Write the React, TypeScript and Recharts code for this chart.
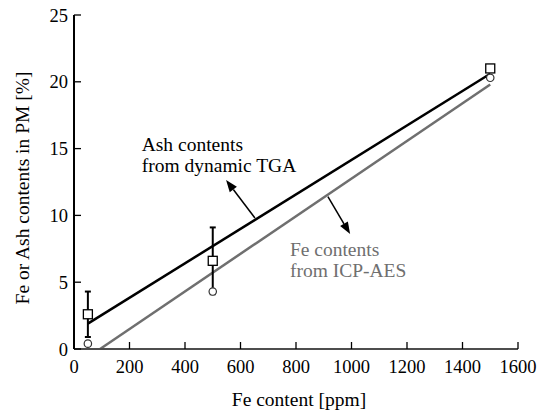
import React from 'react';
import {
  ComposedChart, XAxis, YAxis, Line, Scatter, ErrorBar, ReferenceLine, ReferenceDot, Label
} from 'recharts';

const FONT = "'Liberation Serif', Tinos, 'Times New Roman', Times, serif";
const GRAY = '#6f6f6f';

const xTicks = [0, 200, 400, 600, 800, 1000, 1200, 1400, 1600];
const yTicks = [0, 5, 10, 15, 20, 25];

// measured samples
const feAdded = [50, 500, 1500];
const ashTga = [2.6, 6.6, 21.0];
const ashErr = [1.7, 2.5, 0];
const feIcp = [0.4, 4.3, 20.3];

// linear fits
const ashFitX = [50, 1500];
const ashFitY = [1.9, 20.6];
const feFitX = [94, 1500];
const feFitY = [0, 19.8];

const ashPoints = feAdded.map((x, i) => ({ x, y: ashTga[i], err: ashErr[i] }));
const fePoints = feAdded.map((x, i) => ({ x, y: feIcp[i] }));
const ashFit = ashFitX.map((x, i) => ({ x, y: ashFitY[i] }));
const feFit = feFitX.map((x, i) => ({ x, y: feFitY[i] }));

function Arrow(props: any) {
  const { x1, y1, x2, y2, color } = props;
  const a = Math.atan2(y2 - y1, x2 - x1);
  const len = 12;
  const hw = 4.5;
  const bx = x2 - len * Math.cos(a);
  const by = y2 - len * Math.sin(a);
  const px = -Math.sin(a) * hw;
  const py = Math.cos(a) * hw;
  return (
    <g>
      <line x1={x1} y1={y1} x2={bx} y2={by} stroke={color} strokeWidth={1.5} />
      <polygon points={`${x2},${y2} ${bx + px},${by + py} ${bx - px},${by - py}`} fill={color} />
    </g>
  );
}

function Note({ cx, cy, lines, color }: any) {
  return (
    <text x={cx} y={cy} fill={color} style={{ fontFamily: FONT, fontSize: 19.5 }}>
      {lines.map((t: string, i: number) => (
        <tspan key={i} x={cx} dy={i === 0 ? 0 : 21}>{t}</tspan>
      ))}
    </text>
  );
}

const Square = ({ cx, cy }: any) => (
  <rect x={cx - 4.5} y={cy - 4.5} width={9} height={9} fill="#fff" stroke="#000" strokeWidth={1.3} />
);
const Ring = ({ cx, cy }: any) => (
  <circle cx={cx} cy={cy} r={3.7} fill="#fff" stroke="#333" strokeWidth={1.2} />
);

const tickStyle = { fontFamily: FONT, fontSize: 18.5, fill: '#000', style: { fontFamily: FONT } };

export default function App() {
  return (
    <div style={{ position: 'absolute', left: 0, top: 0, background: '#fff', fontFamily: FONT }}>
      <ComposedChart width={544} height={415} margin={{ top: 15, right: 26, bottom: 16, left: 0 }}>
        <XAxis
          xAxisId="b" type="number" dataKey="x" domain={[0, 1600]} ticks={xTicks}
          height={50} tickSize={-7} tickMargin={18} tick={tickStyle}
          axisLine={{ stroke: '#4d4d4d', strokeWidth: 2 }} tickLine={{ stroke: '#000', strokeWidth: 1.3 }}
        >
          <Label
            content={({ viewBox }: any) => (
              <text x={viewBox.x + viewBox.width / 2 + 3} y={viewBox.y + 57} textAnchor="middle"
                style={{ fontFamily: FONT, fontSize: 19.5 }} fill="#000">Fe content [ppm]</text>
            )}
          />
        </XAxis>
        <XAxis
          xAxisId="t" orientation="top" type="number" dataKey="x" domain={[0, 1600]} ticks={xTicks}
          height={0} tickSize={-7} tickFormatter={() => ''}
          axisLine={{ stroke: '#000', strokeWidth: 1.5 }} tickLine={{ stroke: '#000', strokeWidth: 1.3 }}
        />
        <YAxis
          yAxisId="l" type="number" dataKey="y" domain={[0, 25]} ticks={yTicks}
          width={74} tickSize={-7} tickMargin={13} tick={tickStyle}
          axisLine={{ stroke: '#000', strokeWidth: 2 }} tickLine={{ stroke: '#000', strokeWidth: 1.3 }}
        >
          <Label
            content={({ viewBox }: any) => {
              const cx = viewBox.x + 22;
              const cy = viewBox.y + viewBox.height / 2 + 6;
              return (
                <text x={cx} y={cy} textAnchor="middle" dominantBaseline="central"
                  transform={`rotate(-90, ${cx}, ${cy})`}
                  style={{ fontFamily: FONT, fontSize: 19.5 }} fill="#000">Fe or Ash contents in PM [%]</text>
              );
            }}
          />
        </YAxis>
        <YAxis
          yAxisId="r" orientation="right" type="number" dataKey="y" domain={[0, 25]} ticks={yTicks}
          width={0} tickSize={-7} tickFormatter={() => ''}
          axisLine={{ stroke: '#000', strokeWidth: 1.5 }} tickLine={{ stroke: '#000', strokeWidth: 1.3 }}
        />

        <Line xAxisId="b" yAxisId="l" data={ashFit} dataKey="y" stroke="#000" strokeWidth={2.5}
          dot={false} activeDot={false} isAnimationActive={false} />
        <Line xAxisId="b" yAxisId="l" data={feFit} dataKey="y" stroke={GRAY} strokeWidth={2.5}
          dot={false} activeDot={false} isAnimationActive={false} />

        <Scatter xAxisId="b" yAxisId="l" data={ashPoints} shape={<Square />} isAnimationActive={false}>
          <ErrorBar dataKey="err" direction="y" width={3} stroke="#000" strokeWidth={2} />
        </Scatter>
        <Scatter xAxisId="b" yAxisId="l" data={fePoints} shape={<Ring />} isAnimationActive={false} />

        <ReferenceLine xAxisId="b" yAxisId="l" segment={[{ x: 652, y: 9.8 }, { x: 548, y: 12.65 }]}
          shape={(p: any) => <Arrow {...p} color="#000" />} />
        <ReferenceLine xAxisId="b" yAxisId="l" segment={[{ x: 915, y: 11.4 }, { x: 995, y: 8.6 }]}
          shape={(p: any) => <Arrow {...p} color="#000" />} />

        <ReferenceDot xAxisId="b" yAxisId="l" x={244} y={14.8} r={0}
          shape={(p: any) => <Note {...p} color="#000" lines={['Ash contents', 'from dynamic TGA']} />} />
        <ReferenceDot xAxisId="b" yAxisId="l" x={778} y={6.96} r={0}
          shape={(p: any) => <Note {...p} color={GRAY} lines={['Fe contents', 'from ICP-AES']} />} />
      </ComposedChart>
    </div>
  );
}
